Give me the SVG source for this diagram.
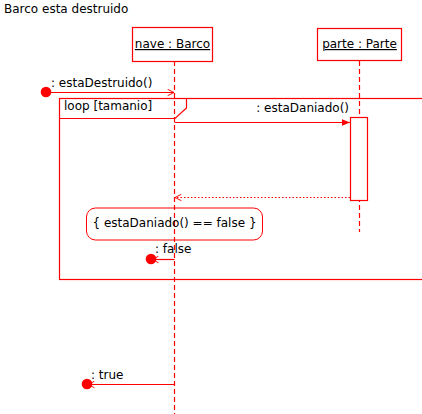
<svg xmlns="http://www.w3.org/2000/svg" width="422" height="414" viewBox="0 0 422 414">
<style>
text{font-family:"DejaVu Sans",sans-serif;font-size:12px;fill:#000}
.box{fill:#fff;stroke:#f00;stroke-width:1.2}
.life{stroke:#f00;stroke-width:1.2;stroke-dasharray:5,3;fill:none}
.msg{stroke:#f00;stroke-width:1.2;fill:none}
.ret{stroke:#f00;stroke-width:1;stroke-dasharray:1.5,2;fill:none}
.frame{stroke:#f00;stroke-width:1.2;fill:none}
.dot{fill:#f00}
</style>
<defs>
<marker id="open" viewBox="0 0 10 10" refX="9" refY="5" markerWidth="8" markerHeight="8" markerUnits="userSpaceOnUse" orient="auto">
<path d="M1,1 L9,5 L1,9" fill="none" stroke="#f00" stroke-width="1.2"/>
</marker>
<marker id="filled" viewBox="0 0 10 10" refX="10" refY="5" markerWidth="8" markerHeight="8" markerUnits="userSpaceOnUse" orient="auto">
<path d="M0,1 L10,5 L0,9 Z" fill="#f00"/>
</marker>
</defs>
<text x="4" y="13">Barco esta destruido</text>
<g id="frame_loop">
<rect class="frame" x="59.5" y="98.5" width="380" height="181"/>
<path class="frame" d="M59.5,118.5 H175 L186.5,108 V98.5"/>
<text x="64" y="110">loop [tamanio]</text>
</g>
<g id="connectors">
<path class="life" d="M174.5,61 V414"/>
<path class="life" d="M359.5,61 V232"/>
<circle class="dot" cx="46" cy="92" r="5.3"/>
<path class="msg" d="M46,92.5 H174" marker-end="url(#open)"/>
<text x="51" y="87">: estaDestruido()</text>
<path class="msg" d="M174.5,122.5 H350" marker-end="url(#filled)"/>
<text x="349" y="112" text-anchor="end">: estaDaniado()</text>
<path class="ret" d="M350,197.5 H175" marker-end="url(#open)"/>
<path class="msg" d="M174.5,259.5 H152" marker-end="url(#open)"/>
<circle class="dot" cx="151" cy="259" r="5.3"/>
<text x="155" y="253">: false</text>
<path class="msg" d="M175,384.5 H88" marker-end="url(#open)"/>
<circle class="dot" cx="87" cy="384" r="5.3"/>
<text x="91" y="379">: true</text>
</g>
<g id="nave">
<rect class="box" x="132.5" y="27.5" width="80" height="34"/>
<text x="172.5" y="48" text-anchor="middle" text-decoration="underline">nave : Barco</text>
</g>
<g id="parte">
<rect class="box" x="317.5" y="28.5" width="84" height="32"/>
<text x="359.5" y="48" text-anchor="middle" text-decoration="underline">parte : Parte</text>
<rect class="box" x="350.5" y="117.5" width="17" height="83"/>
</g>
<g id="constraint">
<rect x="86.5" y="208" width="176" height="32" rx="9" fill="none" stroke="#f00" stroke-width="1"/>
<text x="174.5" y="227" text-anchor="middle">{ estaDaniado() == false }</text>
</g>
</svg>
